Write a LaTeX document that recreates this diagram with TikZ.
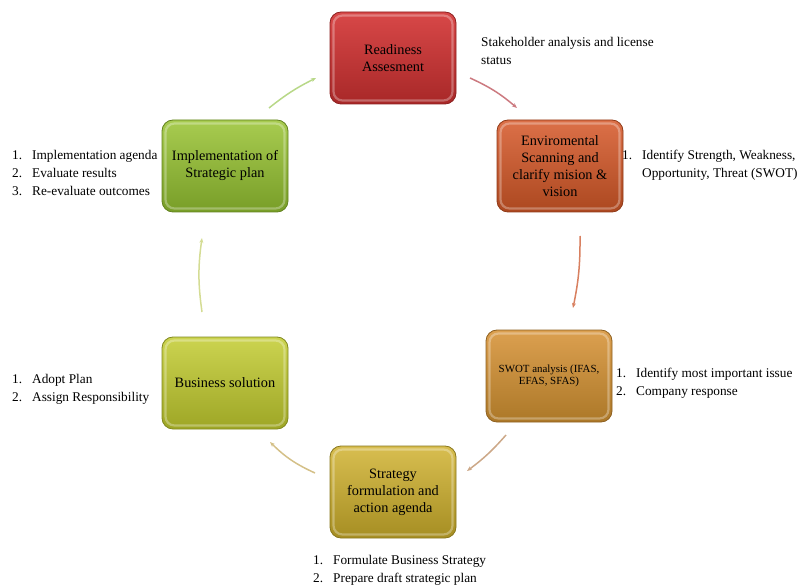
\documentclass[tikz,border=0pt]{standalone}
\usepackage{fontspec}
\setmainfont{Liberation Serif}
\usetikzlibrary{arrows.meta}
\begin{document}
\begin{tikzpicture}[x=1pt,y=-1pt,
  stagebox/.style={rounded corners=11pt, minimum width=126pt, minimum height=92pt,
    inner sep=3pt, align=center, font=\fontsize{14.3}{17}\selectfont,
    line width=0.8pt,
    path picture={\draw[white,opacity=0.3,line width=2.2pt,rounded corners=9pt]
      ([shift={(3.5pt,3.5pt)}]path picture bounding box.south west) rectangle
      ([shift={(-3.5pt,-3.5pt)}]path picture bounding box.north east);}},
  listtext/.style={anchor=west, inner sep=0pt, align=left, font=\fontsize{13.3}{18}\selectfont},
  arr/.style={line width=1.5pt, -{Stealth[length=5pt,width=4pt]}}
]
\useasboundingbox (0,0) rectangle (798,588);
\definecolor{rdTop}{HTML}{D84848}\definecolor{rdBot}{HTML}{A82828}\definecolor{rdLine}{HTML}{8C2020}
\definecolor{enTop}{HTML}{DC7048}\definecolor{enBot}{HTML}{AC4820}\definecolor{enLine}{HTML}{903A18}
\definecolor{swTop}{HTML}{DCA050}\definecolor{swBot}{HTML}{AC7828}\definecolor{swLine}{HTML}{8E6020}
\definecolor{stTop}{HTML}{D8BE50}\definecolor{stBot}{HTML}{A68E22}\definecolor{stLine}{HTML}{88761C}
\definecolor{buTop}{HTML}{CCD450}\definecolor{buBot}{HTML}{9EA626}\definecolor{buLine}{HTML}{80881E}
\definecolor{imTop}{HTML}{A8CC50}\definecolor{imBot}{HTML}{789E28}\definecolor{imLine}{HTML}{62821E}
\definecolor{a1}{HTML}{CC7A80}\definecolor{a2}{HTML}{D88060}\definecolor{a3}{HTML}{CCA888}
\definecolor{a4}{HTML}{D4C088}\definecolor{a5}{HTML}{D4DC94}\definecolor{a6}{HTML}{B8D888}

\node[stagebox, draw=rdLine, top color=rdTop, bottom color=rdBot] (r) at (393,58) {Readiness\\Assesment};
\node[stagebox, draw=enLine, top color=enTop, bottom color=enBot] (e) at (560,166) {Enviromental\\Scanning and\\clarify mision \&\\vision};
\node[stagebox, draw=swLine, top color=swTop, bottom color=swBot, font=\fontsize{10.9}{11.5}\selectfont] (s) at (549,376) {SWOT analysis (IFAS,\\EFAS, SFAS)};
\node[stagebox, draw=stLine, top color=stTop, bottom color=stBot] (f) at (393,492) {Strategy\\formulation and\\action agenda};
\node[stagebox, draw=buLine, top color=buTop, bottom color=buBot] (b) at (225,383) {Business solution};
\node[stagebox, draw=imLine, top color=imTop, bottom color=imBot] (i) at (225,166) {Implementation of\\Strategic plan};

\node[listtext] (rl) at (481,51) {Stakeholder analysis and license\\status};
\node[listtext] (el) at (622,165) {\makebox[20pt][l]{1.}Identify Strength, Weakness,\\\hspace*{20pt}Opportunity, Threat (SWOT)};
\node[listtext] (sl) at (616,383) {\makebox[20pt][l]{1.}Identify most important issue\\\makebox[20pt][l]{2.}Company response};
\node[listtext] (fl) at (313,570) {\makebox[20pt][l]{1.}Formulate Business Strategy\\\makebox[20pt][l]{2.}Prepare draft strategic plan};
\node[listtext] (bl) at (12,389) {\makebox[20pt][l]{1.}Adopt Plan\\\makebox[20pt][l]{2.}Assign Responsibility};
\node[listtext] (il) at (12,173) {\makebox[20pt][l]{1.}Implementation agenda\\\makebox[20pt][l]{2.}Evaluate results\\\makebox[20pt][l]{3.}Re-evaluate outcomes};

\coordinate (c1s) at (470,78);  \coordinate (c1e) at (517,108);
\coordinate (c2s) at (580,236); \coordinate (c2e) at (573,308);
\coordinate (c3s) at (506,435); \coordinate (c3e) at (467,471);
\coordinate (c4s) at (315,473); \coordinate (c4e) at (270,442);
\coordinate (c5s) at (202,312); \coordinate (c5e) at (202,238);
\coordinate (c6s) at (269,108); \coordinate (c6e) at (316,78);

\draw[arr, a1] (c1s) to[bend left=8] (c1e);
\draw[arr, a2] (c2s) to[bend left=6] (c2e);
\draw[arr, a3] (c3s) to[bend left=6] (c3e);
\draw[arr, a4] (c4s) to[bend left=10] (c4e);
\draw[arr, a5] (c5s) to[bend left=8] (c5e);
\draw[arr, a6] (c6s) to[bend left=6] (c6e);
\end{tikzpicture}
\end{document}
